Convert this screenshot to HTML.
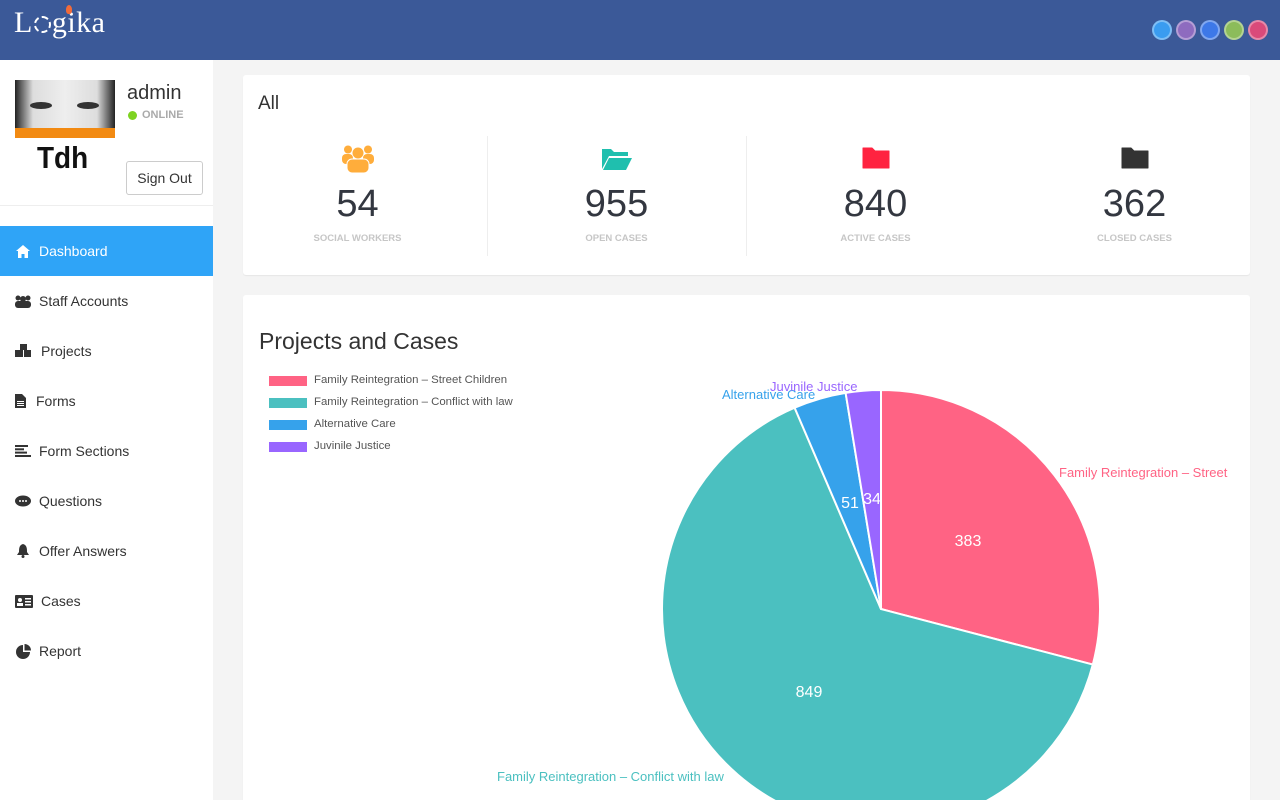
<!DOCTYPE html>
<html><head><meta charset="utf-8"><style>
*{margin:0;padding:0;box-sizing:border-box}
html,body{width:1280px;height:800px;overflow:hidden}
body{background:#f4f4f4;font-family:"Liberation Sans",sans-serif;color:#333;position:relative}
.hdr{position:absolute;left:0;top:0;width:1280px;height:60px;background:#3b5998}
.logo{position:absolute;left:14px;top:6px;font-family:"Liberation Serif",serif;font-size:30px;color:#fff;letter-spacing:0.5px}
.dot{position:absolute;top:20px;width:20px;height:20px;border-radius:50%;border:2px solid rgba(255,255,255,0.35)}
.side{position:absolute;left:0;top:60px;width:213px;height:740px;background:#fff}
.abs{position:absolute}
.menu{position:absolute;left:0;width:213px;height:50px;font-size:14px;color:#333;display:flex;align-items:center}
.menu .ic{width:16px;height:14px;margin-left:15px;margin-right:8px;display:flex;align-items:center;justify-content:center}
.card{position:absolute;background:#fff;border-radius:3px;box-shadow:0 1px 1px rgba(0,0,0,0.06)}
.stat{position:absolute;width:259px;text-align:center}
.num{font-size:38px;color:#333740;line-height:40px}
.lab{font-size:9.5px;font-weight:bold;color:#c6c6c6;margin-top:9px;letter-spacing:0}
.leg{position:absolute;left:269px;font-size:11.4px;color:#555;height:12px}
.leg i{position:absolute;left:0;top:1px;width:38px;height:10px}
.leg span{position:absolute;left:45px;top:-1px;white-space:nowrap}
</style></head><body>
<div class="hdr">
  <div class="logo">L<span style="display:inline-block;width:17px;height:17px;border:2.5px dashed #fff;border-radius:50%;vertical-align:-1px;margin:0 1px"></span>gika</div>
  <div class="abs" style="left:66px;top:5px;width:6px;height:9px;background:#f26b3a;border-radius:50% 50% 40% 40%"></div>
  <div class="dot" style="left:1152px;background:#3a9cf0"></div>
  <div class="dot" style="left:1176px;background:#8e6bbf"></div>
  <div class="dot" style="left:1200px;background:#3d78e8"></div>
  <div class="dot" style="left:1224px;background:#8cbc5a"></div>
  <div class="dot" style="left:1248px;background:#d94a7a"></div>
</div>
<div class="side">
  <div class="abs" style="left:15px;top:20px;width:100px;height:92px;background:#fff;overflow:hidden">
    <div class="abs" style="left:0;top:0;width:100px;height:48px;background:linear-gradient(90deg,#222 0,#ddd 18%,#eee 50%,#ddd 82%,#222 100%)"></div>
    <div class="abs" style="left:15px;top:22px;width:22px;height:7px;background:#333;border-radius:50%"></div>
    <div class="abs" style="left:62px;top:22px;width:22px;height:7px;background:#333;border-radius:50%"></div>
    <div class="abs" style="left:0;top:48px;width:100px;height:10px;background:#f28a12"></div>
    <div class="abs" style="left:22px;top:60px;font-size:31px;font-weight:bold;color:#111;font-family:'Liberation Sans',sans-serif;transform:scaleX(0.9);transform-origin:left">Tdh</div>
  </div>
  <div class="abs" style="left:127px;top:22px;font-size:20px;color:#333">admin</div>
  <div class="abs" style="left:128px;top:51px;width:9px;height:9px;border-radius:50%;background:#7ed321"></div>
  <div class="abs" style="left:142px;top:49px;font-size:11px;font-weight:bold;color:#aaa">ONLINE</div>
  <div class="abs" style="left:126px;top:101px;width:77px;height:34px;border:1px solid #ccc;border-radius:3px;font-size:14px;text-align:center;line-height:32px;color:#333">Sign Out</div>
  <div class="abs" style="left:0;top:145px;width:213px;height:1px;background:#eee"></div>
</div>
<!-- menu -->
<div class="menu" style="top:226px;background:#2fa4f7;color:#fff"><span class="ic"><svg width="14" height="13" viewBox="0 0 14 13"><path d="M7 0 L14 6 L12 6 L12 13 L8.5 13 L8.5 9 L5.5 9 L5.5 13 L2 13 L2 6 L0 6 Z" fill="#fff"/></svg></span>Dashboard</div>
<div class="menu" style="top:276px"><span class="ic"><svg width="16" height="13"><circle cx="3" cy="3" r="2.5" fill="#333"/><circle cx="13" cy="3" r="2.5" fill="#333"/><circle cx="8" cy="4" r="3" fill="#333"/><rect x="0" y="6" width="16" height="7" rx="3" fill="#333"/></svg></span>Staff Accounts</div>
<div class="menu" style="top:326px"><span class="ic" style="margin-right:10px"><svg width="18" height="14"><rect x="5" y="0" width="7" height="6" fill="#333"/><rect x="0" y="6" width="8" height="7" fill="#333"/><rect x="9" y="6" width="8" height="7" fill="#333"/></svg></span>Projects</div>
<div class="menu" style="top:376px"><span class="ic" style="width:11px;margin-right:10px"><svg width="11" height="14"><path d="M0 0 H7 L11 4 V14 H0Z" fill="#333"/><rect x="2" y="7" width="7" height="1" fill="#fff"/><rect x="2" y="9" width="7" height="1" fill="#fff"/><rect x="2" y="11" width="7" height="1" fill="#fff"/></svg></span>Forms</div>
<div class="menu" style="top:426px"><span class="ic"><svg width="16" height="12"><rect x="0" y="0" width="13" height="2" fill="#333"/><rect x="0" y="3.3" width="9" height="2" fill="#333"/><rect x="0" y="6.6" width="12" height="2" fill="#333"/><rect x="0" y="10" width="16" height="2" fill="#333"/></svg></span>Form Sections</div>
<div class="menu" style="top:476px"><span class="ic"><svg width="16" height="13"><ellipse cx="8" cy="6" rx="8" ry="5.5" fill="#333"/><circle cx="5" cy="6" r="1" fill="#fff"/><circle cx="8" cy="6" r="1" fill="#fff"/><circle cx="11" cy="6" r="1" fill="#fff"/></svg></span>Questions</div>
<div class="menu" style="top:526px"><span class="ic"><svg width="14" height="14"><path d="M7 0 C3 1 3 5 3 8 L1 11 H13 L11 8 C11 5 11 1 7 0Z" fill="#333"/><circle cx="7" cy="12.5" r="1.5" fill="#333"/></svg></span>Offer Answers</div>
<div class="menu" style="top:576px"><span class="ic" style="width:18px"><svg width="18" height="13"><rect x="0" y="0" width="18" height="13" rx="1" fill="#333"/><circle cx="5" cy="5" r="2" fill="#fff"/><rect x="2" y="8" width="6" height="3" fill="#fff"/><rect x="10" y="3" width="6" height="1.5" fill="#fff"/><rect x="10" y="6" width="6" height="1.5" fill="#fff"/><rect x="10" y="9" width="6" height="1.5" fill="#fff"/></svg></span>Cases</div>
<div class="menu" style="top:626px"><span class="ic"><svg width="15" height="15"><path d="M7 1 A7 7 0 1 0 14 8 L7 8Z" fill="#333"/><path d="M8.5 0 A6.5 6.5 0 0 1 15 6.5 L8.5 6.5Z" fill="#333"/></svg></span>Report</div>

<!-- card 1 -->
<div class="card" style="left:243px;top:75px;width:1007px;height:200px"></div>
<div class="abs" style="left:258px;top:93px;font-size:19px;color:#333">All</div>
<div class="abs" style="left:487px;top:136px;width:1px;height:120px;background:#eee"></div>
<div class="abs" style="left:746px;top:136px;width:1px;height:120px;background:#eee"></div>

<div class="stat" style="left:228px;top:145px">
  <svg width="32" height="28" viewBox="0 0 32 28"><circle cx="6" cy="4.5" r="4" fill="#ffad3b"/><circle cx="26" cy="4.5" r="4" fill="#ffad3b"/><circle cx="16" cy="8" r="5.5" fill="#ffad3b"/><rect x="0" y="9" width="11" height="10" rx="4" fill="#ffad3b"/><rect x="21" y="9" width="11" height="10" rx="4" fill="#ffad3b"/><rect x="5" y="14" width="22" height="14" rx="5" fill="#ffad3b" stroke="#fff" stroke-width="1"/></svg>
  <div class="num" style="margin-top:6px">54</div>
  <div class="lab">SOCIAL WORKERS</div>
</div>
<div class="stat" style="left:487px;top:145px">
  <svg width="32" height="28" viewBox="0 0 32 28"><path d="M1 4 H10 L13 7 H27 V11 H8 L1 24Z" fill="#1fbfae"/><path d="M8 13 H31 L25 25 H2Z" fill="#1fbfae"/></svg>
  <div class="num" style="margin-top:6px">955</div>
  <div class="lab">OPEN CASES</div>
</div>
<div class="stat" style="left:746px;top:145px">
  <svg width="32" height="28" viewBox="0 0 32 28"><path d="M3 3 H12 L15 6 H29 V23 H3Z" fill="#ff2340" stroke="#ff2340" stroke-width="1" stroke-linejoin="round"/></svg>
  <div class="num" style="margin-top:6px">840</div>
  <div class="lab">ACTIVE CASES</div>
</div>
<div class="stat" style="left:1005px;top:145px">
  <svg width="32" height="28" viewBox="0 0 32 28"><path d="M3 3 H12 L15 6 H29 V23 H3Z" fill="#333" stroke="#333" stroke-width="1" stroke-linejoin="round"/></svg>
  <div class="num" style="margin-top:6px">362</div>
  <div class="lab">CLOSED CASES</div>
</div>

<!-- card 2 -->
<div class="card" style="left:243px;top:295px;width:1007px;height:505px;border-radius:3px 3px 0 0"></div>
<div class="abs" style="left:259px;top:328px;font-size:23px;color:#333">Projects and Cases</div>
<div class="leg" style="top:375px"><i style="background:#ff6384"></i><span>Family Reintegration – Street Children</span></div>
<div class="leg" style="top:397px"><i style="background:#4bc0c0"></i><span>Family Reintegration – Conflict with law</span></div>
<div class="leg" style="top:419px"><i style="background:#36a2eb"></i><span>Alternative Care</span></div>
<div class="leg" style="top:441px"><i style="background:#9966ff"></i><span>Juvinile Justice</span></div>

<svg class="abs" style="left:0;top:0" width="1280" height="800">
  <g stroke="#fff" stroke-width="2" stroke-linejoin="round">
    <path d="M881,609 L881,390 A219,219 0 0,1 1092.84,664.54 Z" fill="#ff6384"/>
    <path d="M881,609 L1092.84,664.54 A219,219 0 1,1 794.62,407.75 Z" fill="#4bc0c0"/>
    <path d="M881,609 L794.62,407.75 A219,219 0 0,1 845.61,392.88 Z" fill="#36a2eb"/>
    <path d="M881,609 L845.61,392.88 A219,219 0 0,1 881,390 Z" fill="#9966ff"/>
  </g>
  <g font-family="Liberation Sans, sans-serif" font-size="16" fill="#fff" text-anchor="middle">
    <text x="968" y="546">383</text>
    <text x="809" y="697">849</text>
    <text x="850" y="508">51</text>
    <text x="872" y="504">34</text>
  </g>
  <g font-family="Liberation Sans, sans-serif" font-size="13">
    <text x="1059" y="477" fill="#ff6384">Family Reintegration – Street</text>
    <text x="722" y="399" fill="#36a2eb">Alternative Care</text>
    <text x="770" y="391" fill="#9966ff">Juvinile Justice</text>
    <text x="497" y="781" fill="#4bc0c0">Family Reintegration – Conflict with law</text>
  </g>
</svg>
</body></html>
